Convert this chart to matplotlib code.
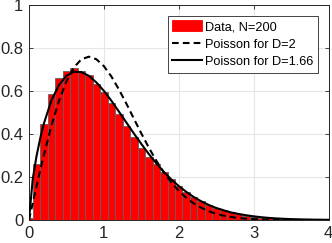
"""Plot spacing histogram against Poisson distributions."""

import matplotlib

matplotlib.use("Agg")
import matplotlib.pyplot as plt
import numpy as np

# Histogram bin centres and normalised counts
bin_centers = [
    0.0, 0.1, 0.2, 0.3, 0.4, 0.5, 0.6, 0.7, 0.8, 0.9,
    1.0, 1.1, 1.2, 1.3, 1.4, 1.5, 1.6, 1.7, 1.8, 1.9,
    2.0, 2.1, 2.2, 2.3, 2.4, 2.5, 2.6, 2.7, 2.8, 2.9,
    3.0, 3.1, 3.2, 3.3, 3.4, 3.5, 3.6, 3.7, 3.8, 3.9, 4.0,
]
bin_heights = [
    0.01, 0.26, 0.447, 0.588, 0.66, 0.695, 0.705, 0.693, 0.673, 0.633,
    0.597, 0.543, 0.492, 0.439, 0.388, 0.335, 0.295, 0.26, 0.222, 0.19,
    0.16, 0.132, 0.108, 0.088, 0.071, 0.057, 0.045, 0.035, 0.027, 0.02,
    0.015, 0.011, 0.008, 0.006, 0.004, 0.003, 0.002, 0.0015, 0.001, 0.0007, 0.0004,
]

# Curves
curve_s = [
    0.0, 0.05, 0.1, 0.15, 0.2, 0.3, 0.4, 0.5, 0.6, 0.7, 0.8, 0.9,
    1.0, 1.1, 1.2, 1.3, 1.4, 1.5, 1.6, 1.7, 1.8, 1.9,
    2.0, 2.1, 2.2, 2.3, 2.4, 2.5, 2.6, 2.7, 2.8, 2.9,
    3.0, 3.1, 3.2, 3.3, 3.4, 3.5, 3.6, 3.7, 3.8, 3.9, 4.0,
]
poisson_d2 = [
    0.0, 0.078, 0.156, 0.232, 0.304, 0.439, 0.554, 0.645, 0.710, 0.748, 0.760, 0.748,
    0.716, 0.668, 0.608, 0.542, 0.472, 0.403, 0.337, 0.276, 0.222, 0.175,
    0.136, 0.103, 0.077, 0.057, 0.041, 0.029, 0.020, 0.014, 0.009, 0.006,
    0.004, 0.0025, 0.0016, 0.001, 0.0006, 0.0004, 0.0002, 0.0001, 0.0, 0.0, 0.0,
]
poisson_d166 = [
    0.0, 0.190, 0.296, 0.380, 0.450, 0.557, 0.628, 0.671, 0.690, 0.688, 0.671, 0.640,
    0.601, 0.555, 0.505, 0.454, 0.403, 0.354, 0.307, 0.264, 0.224, 0.189,
    0.158, 0.131, 0.107, 0.087, 0.070, 0.056, 0.045, 0.035, 0.028, 0.022,
    0.017, 0.013, 0.0097, 0.0073, 0.0055, 0.0041, 0.003, 0.0022, 0.0016, 0.0011, 0.0008,
]

AXIS_GREY = "#262626"


def plot_histogram() -> None:
    """Draw histogram and the two Poisson curves."""
    plt.rcParams["font.family"] = ["Liberation Sans", "DejaVu Sans"]
    fig = plt.figure(figsize=(3.32, 2.43), dpi=100)
    ax = fig.add_axes([0.0873, 0.0947, 0.9022, 0.8843])

    bars = ax.bar(
        bin_centers,
        bin_heights,
        width=0.1,
        color="#ff0000",
        edgecolor="#606060",
        linewidth=0.6,
        label="Data, N=200",
        zorder=2,
    )
    (line_d2,) = ax.plot(
        curve_s,
        poisson_d2,
        linestyle=(0, (3.2, 2.0)),
        color="black",
        linewidth=1.5,
        label="Poisson for D=2",
        zorder=3,
    )
    (line_d166,) = ax.plot(
        curve_s,
        poisson_d166,
        linestyle="-",
        color="black",
        linewidth=1.5,
        label="Poisson for D=1.66",
        zorder=3,
    )

    ax.set_xlim(0, 4)
    ax.set_ylim(0, 1)
    ax.set_xticks([0, 1, 2, 3, 4])
    ax.set_xticklabels(["0", "1", "2", "3", "4"])
    ax.set_yticks([0, 0.2, 0.4, 0.6, 0.8, 1])
    ax.set_yticklabels(["0", "0.2", "0.4", "0.6", "0.8", "1"])
    ax.grid(True, color="#e6e6e6", linewidth=0.8, zorder=0)
    ax.set_axisbelow(True)
    ax.tick_params(
        direction="in",
        top=True,
        right=True,
        length=3,
        width=0.6,
        colors=AXIS_GREY,
        labelsize=12,
        pad=4,
    )
    for spine in ax.spines.values():
        spine.set_color(AXIS_GREY)
        spine.set_linewidth(0.7)

    leg = ax.legend(
        [bars, line_d2, line_d166],
        ["Data, N=200", "Poisson for D=2", "Poisson for D=1.66"],
        loc="upper right",
        fontsize=9.2,
        frameon=True,
        fancybox=False,
        edgecolor=AXIS_GREY,
        framealpha=1,
        handlelength=2.3,
        handleheight=0.9,
        handletextpad=0.25,
        borderpad=0.35,
        labelspacing=0.38,
        borderaxespad=0.85,
    )
    leg.get_frame().set_linewidth(0.6)
    for patch in leg.get_patches():
        patch.set_edgecolor("#ff0000")

    plt.savefig("out.png", dpi=100)
    plt.close()


plot_histogram()
